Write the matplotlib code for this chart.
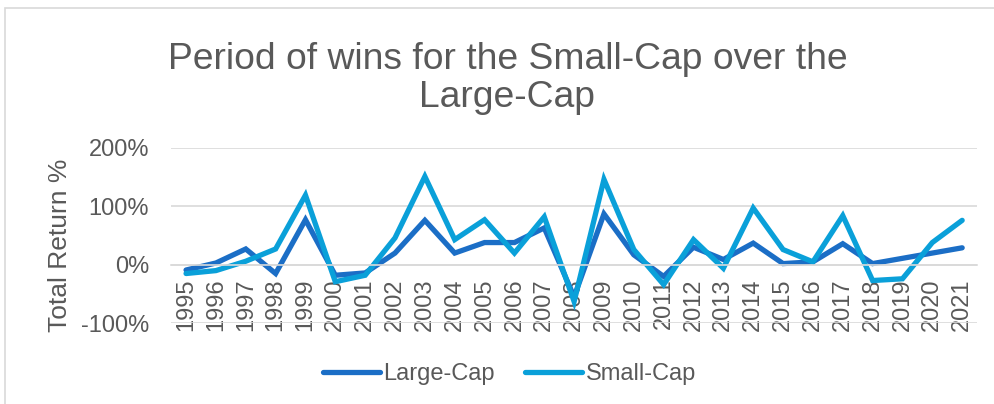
import matplotlib.pyplot as plt
from matplotlib.patches import Rectangle
from matplotlib.ticker import FuncFormatter

plt.rcParams['font.family'] = ['Liberation Sans', 'DejaVu Sans']

years = [str(y) for y in range(1995, 2022)]

# total return %
large_cap = [-9, 3, 27, -15, 77, -18, -14, 20, 76, 20, 38, 38, 63,
             -55, 87, 17, -20, 30, 9, 37, 2, 5, 36, 2, 11, 20, 29]
small_cap = [-15, -10, 6, 27, 119, -29, -18, 46, 151, 43, 77, 20, 82,
             -63, 146, 26, -34, 43, -6, 97, 26, 5, 84, -27, -24, 38, 76]

grey = '#595959'

fig = plt.figure(figsize=(9.95, 4.04), dpi=100)
ax = fig.add_axes([0.172, 0.200, 0.810, 0.434])

# light frame round the chart, like the Excel chart area
fig.patches.append(Rectangle((5 / 995, -0.1), 1.1, 1.1 - 8 / 404,
                             transform=fig.transFigure, fill=False,
                             edgecolor='#d9d9d9', linewidth=1.2))

x = range(len(years))
ax.plot(x, large_cap, color='#1b6ec6', lw=3.8, label='Large-Cap',
        solid_capstyle='round', solid_joinstyle='miter')
ax.plot(x, small_cap, color='#0aa0d9', lw=3.8, label='Small-Cap',
        solid_capstyle='round', solid_joinstyle='miter')

ax.set_xlim(-0.5, len(years) - 0.5)
ax.set_ylim(-100, 200)
ax.set_yticks([-100, 0, 100, 200])
ax.yaxis.set_major_formatter(FuncFormatter(lambda v, p: f'{v:.0f}%'))
ax.grid(axis='y', color='#d9d9d9', lw=1.2)
ax.set_axisbelow(True)

ax.set_xticks(list(x))
ax.set_xticklabels(years)
ax.spines['bottom'].set_position(('data', 0))
ax.spines['bottom'].set_color('#d9d9d9')
ax.spines['bottom'].set_linewidth(1.2)
for s in ['top', 'right', 'left']:
    ax.spines[s].set_visible(False)
ax.tick_params(axis='both', length=0, labelsize=17, labelcolor=grey)
ax.tick_params(axis='y', pad=16)
ax.tick_params(axis='x', pad=10, labelrotation=90)

ax.set_ylabel('Total Return %', fontsize=19, color=grey)
ax.yaxis.set_label_coords(-0.123, 0.445)

fig.suptitle('Period of wins for the Small-Cap over the\nLarge-Cap',
             fontsize=26.8, color=grey, x=0.51, y=0.895, linespacing=1.08)

fig.legend(loc='center', bbox_to_anchor=(0.512, 0.074), ncol=2, frameon=False,
           fontsize=17, labelcolor=grey, handlelength=2.4, handletextpad=0.15,
           columnspacing=1.3)

fig.savefig('out.png', dpi=100)
